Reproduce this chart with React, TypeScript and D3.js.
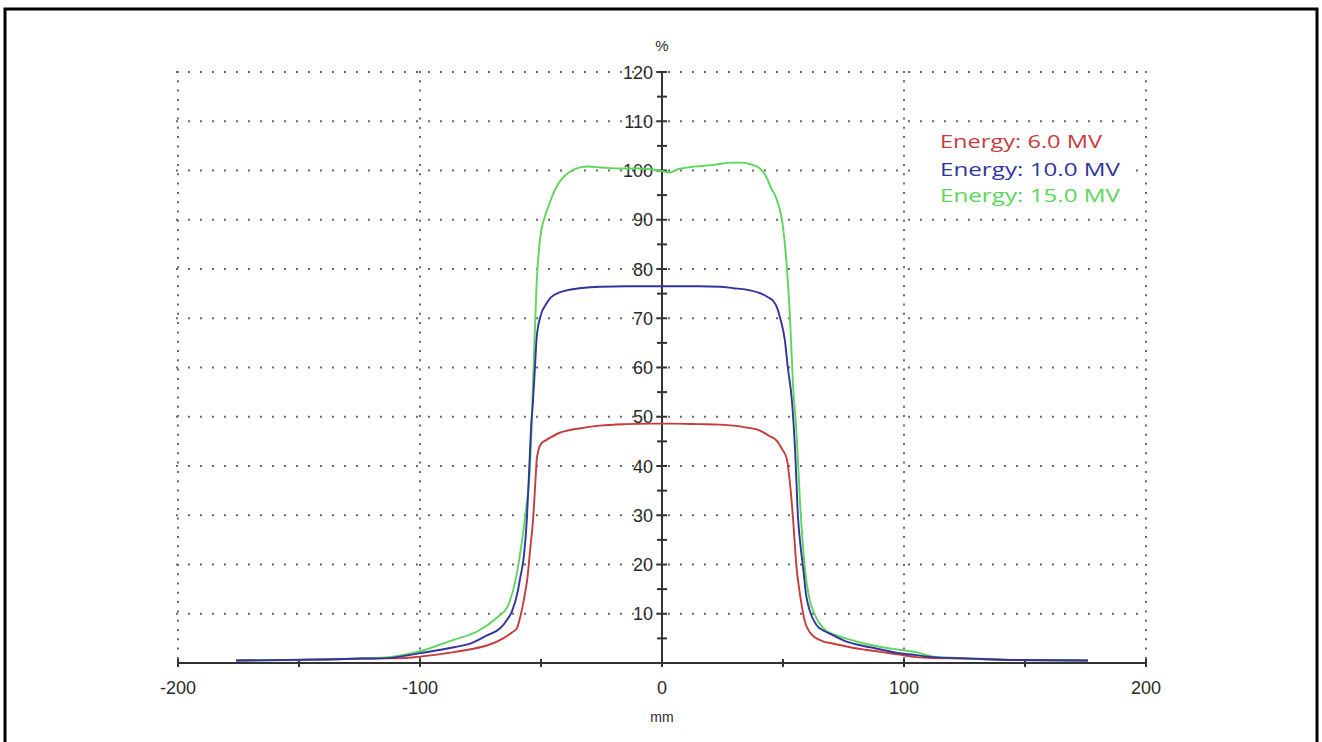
//beam profile chart: three energies, dose (%) against off-axis distance (mm)
import * as d3 from 'd3';
import React, { useEffect, useRef } from 'react';

// 6 MV profile
const x6MV = [-176, -140, -123, -107, -100, -93, -86, -79, -72, -65.6, -62, -60, -58.5, -57.4, -56.5, -55.8, -54.5, -53.2, -52.3, -51.8, -51, -50, -48, -46, -42, -39, -32, -25.6, -15, -5, 0, 5, 15, 24, 29.5, 35, 40.5, 44, 47.5, 49.5, 51.6, 52.9, 54.1, 55.6, 56.7, 57.8, 59, 61, 63, 66.5, 70, 77.7, 84, 91, 98, 105, 112, 123, 147, 176];
const y6MV = [0.5, 0.7, 0.9, 1.0, 1.3, 1.7, 2.2, 2.8, 3.6, 5.0, 6.2, 7.0, 9.5, 12, 14.5, 16.5, 22.9, 29.6, 37, 41.1, 43.3, 44.5, 45.2, 45.8, 46.8, 47.2, 47.8, 48.2, 48.5, 48.6, 48.6, 48.6, 48.5, 48.4, 48.2, 47.8, 47.2, 46.2, 45.1, 43.5, 41.4, 36.4, 29.6, 19.4, 15, 11.5, 8.5, 6.3, 5.3, 4.4, 4.0, 3.2, 2.7, 2.2, 1.7, 1.2, 1.0, 0.9, 0.6, 0.5];

// 10 MV profile
const x10MV = [-176, -140, -123, -113.6, -100, -86, -79, -72.3, -67, -64, -62, -59.5, -58.7, -57, -55.8, -55, -54, -53.3, -52.5, -51.8, -50.4, -48, -46, -42, -39, -32, -25, -15, 0, 15, 24, 29.5, 35, 40.5, 44, 46, 47.5, 48.8, 50.8, 52, 53.7, 55, 56.2, 57.2, 58.3, 59.5, 61, 64, 67, 70, 76, 82, 88, 98, 105, 112, 123, 147, 176];
const y10MV = [0.5, 0.7, 0.9, 1.0, 2.0, 3.2, 4.0, 5.6, 7.0, 8.8, 10.5, 14.8, 17, 22, 29.6, 38, 48.6, 53.2, 60, 66, 70.1, 72.8, 74.2, 75.3, 75.7, 76.2, 76.4, 76.5, 76.5, 76.5, 76.4, 76.1, 75.8, 75.1, 74.2, 73.5, 72.2, 70.1, 65.4, 60, 53.2, 43.1, 29.6, 24, 19.4, 14, 10.7, 7.6, 6.5, 5.8, 4.4, 3.6, 3.0, 2.0, 1.6, 1.2, 1.0, 0.6, 0.5];

// 15 MV profile
const x15MV = [-176, -140, -123, -113, -100, -93, -86, -76, -68, -64, -61.5, -59, -57.4, -56, -54.5, -53.3, -52.5, -51.8, -50.4, -48.5, -47, -45, -43, -40, -36, -31, -25, -18, -10, -4, 0, 3, 7, 12, 16, 22, 29, 33, 37, 40.5, 43, 45, 47.5, 50, 51.6, 52.9, 54.1, 55.6, 57, 59, 61, 63, 65, 68, 71, 74, 78, 84, 91, 98, 105, 112, 123, 147, 176];
const y15MV = [0.5, 0.7, 1.0, 1.2, 2.4, 3.5, 4.7, 6.5, 9.3, 11.3, 14.8, 21, 26.4, 32, 40, 56.8, 68, 77, 86, 90.5, 92.6, 95.2, 97.2, 99, 100.3, 100.8, 100.6, 100.4, 100.4, 100.2, 99.9, 99.6, 100.3, 100.7, 100.9, 101.2, 101.6, 101.6, 101.2, 100.4, 98.8, 96.5, 94, 88.5, 80.3, 70, 56.8, 46.6, 33, 19.4, 12.8, 10, 8.1, 6.5, 5.8, 5.3, 4.7, 3.9, 3.2, 2.7, 2.2, 1.3, 1.0, 0.6, 0.5];

const legendLabels = ['Energy: 6.0 MV', 'Energy: 10.0 MV', 'Energy: 15.0 MV'];
const seriesColors = ['#c63c3c', '#33339f', '#5cd65c'];

const xLabelTicks = [-200, -100, 0, 100, 200];
const xMarkTicks = [-200, -150, -100, -50, 0, 50, 100, 150, 200];
const xGridLines = [-200, -100, 100, 200];
const yLabelTicks = [10, 20, 30, 40, 50, 60, 70, 80, 90, 100, 110, 120];
const yMarkTicks = [5, 10, 15, 20, 25, 30, 35, 40, 45, 50, 55, 60, 65, 70, 75, 80, 85, 90, 95, 100, 105, 110, 115, 120];

const App = () => {
  const svgRef = useRef<SVGSVGElement>(null);

  useEffect(() => {
    const width = 1322;
    const height = 742;

    const svg = d3.select(svgRef.current).attr('width', width).attr('height', height);
    svg.selectAll('*').remove();

    svg
      .append('rect')
      .attr('width', width)
      .attr('height', height)
      .attr('fill', '#fff');

    //outer frame
    svg
      .append('rect')
      .attr('x', 5)
      .attr('y', 9)
      .attr('width', 1312)
      .attr('height', 760)
      .attr('fill', 'none')
      .attr('stroke', '#000')
      .attr('stroke-width', 3);

    const x = d3.scaleLinear().domain([-200, 200]).range([178, 1146]);
    const y = d3.scaleLinear().domain([0, 120]).range([663, 72]);

    //dotted grid
    const grid = svg.append('g').attr('stroke', '#6a6a6a').attr('stroke-width', 2);
    grid
      .selectAll('.hgrid')
      .data(yLabelTicks)
      .enter()
      .append('line')
      .attr('x1', x(-200) - 2)
      .attr('x2', x(200) + 2)
      .attr('y1', (d) => y(d))
      .attr('y2', (d) => y(d))
      .attr('stroke-dasharray', '2 10');
    grid
      .selectAll('.vgrid')
      .data(xGridLines)
      .enter()
      .append('line')
      .attr('x1', (d) => x(d))
      .attr('x2', (d) => x(d))
      .attr('y1', y(120) - 1)
      .attr('y2', y(0))
      .attr('stroke-dasharray', '2 7.3');

    //x axis line and ticks
    const axisColor = '#333';
    svg
      .append('line')
      .attr('x1', x(-200))
      .attr('x2', x(200))
      .attr('y1', y(0))
      .attr('y2', y(0))
      .attr('stroke', axisColor)
      .attr('stroke-width', 2);
    svg
      .selectAll('.xtick')
      .data(xMarkTicks)
      .enter()
      .append('line')
      .attr('x1', (d) => x(d))
      .attr('x2', (d) => x(d))
      .attr('y1', y(0) - 4)
      .attr('y2', y(0) + 4)
      .attr('stroke', axisColor)
      .attr('stroke-width', 2);

    //y axis line and ticks
    svg
      .append('line')
      .attr('x1', x(0))
      .attr('x2', x(0))
      .attr('y1', y(0))
      .attr('y2', y(120))
      .attr('stroke', axisColor)
      .attr('stroke-width', 2);
    svg
      .selectAll('.ytick')
      .data(yMarkTicks)
      .enter()
      .append('line')
      .attr('x1', x(0) - 5)
      .attr('x2', x(0) + 5)
      .attr('y1', (d) => y(d))
      .attr('y2', (d) => y(d))
      .attr('stroke', axisColor)
      .attr('stroke-width', 2);

    const labelFont = '"Liberation Sans", Arial, sans-serif';

    //tick labels
    svg
      .selectAll('.xlabel')
      .data(xLabelTicks)
      .enter()
      .append('text')
      .attr('x', (d) => x(d))
      .attr('y', 694)
      .attr('text-anchor', 'middle')
      .attr('font-family', labelFont)
      .attr('font-size', 18)
      .attr('fill', '#2a2a2a')
      .text((d) => d);

    svg
      .selectAll('.ylabel')
      .data(yLabelTicks)
      .enter()
      .append('text')
      .attr('x', x(0) - 9)
      .attr('y', (d) => y(d) + 6.5)
      .attr('text-anchor', 'end')
      .attr('font-family', labelFont)
      .attr('font-size', 18)
      .attr('fill', '#2a2a2a')
      .text((d) => d);

    //axis titles
    svg
      .append('text')
      .attr('x', x(0))
      .attr('y', 51)
      .attr('text-anchor', 'middle')
      .attr('font-family', labelFont)
      .attr('font-size', 15)
      .attr('fill', '#2a2a2a')
      .text('%');
    svg
      .append('text')
      .attr('x', x(0))
      .attr('y', 722)
      .attr('text-anchor', 'middle')
      .attr('font-family', labelFont)
      .attr('font-size', 14)
      .attr('fill', '#2a2a2a')
      .text('mm');

    //profile curves
    const series = [
      { xs: x6MV, ys: y6MV, color: seriesColors[0] },
      { xs: x15MV, ys: y15MV, color: seriesColors[2] },
      { xs: x10MV, ys: y10MV, color: seriesColors[1] }
    ];
    const profileLine = d3.line().curve(d3.curveMonotoneX);

    series.forEach((s) => {
      const pts: [number, number][] = s.xs.map((v, i) => [x(v), y(s.ys[i])]);
      svg
        .append('path')
        .attr('d', profileLine(pts))
        .attr('fill', 'none')
        .attr('stroke', s.color)
        .attr('stroke-width', 1.9);
    });

    //legend, with a white box hiding the grid behind it
    svg
      .append('rect')
      .attr('x', 920)
      .attr('y', 126)
      .attr('width', 212)
      .attr('height', 86)
      .attr('fill', '#fff');

    const legendWidths = [162, 180, 180];
    const legendBaselines = [148, 176, 202];
    svg
      .selectAll('.legend')
      .data(legendLabels)
      .enter()
      .append('text')
      .attr('x', 940)
      .attr('y', (d, i) => legendBaselines[i])
      .attr('font-family', '"Open Sans", "Noto Sans", sans-serif')
      .attr('font-size', 17.5)
      .attr('fill', (d, i) => seriesColors[i])
      .attr('textLength', (d, i) => legendWidths[i])
      .attr('lengthAdjust', 'spacingAndGlyphs')
      .text((d) => d);
  }, []);

  return (
    <div style={{ position: 'absolute', left: 0, top: 0 }}>
      <svg ref={svgRef} style={{ display: 'block' }}></svg>
    </div>
  );
};

export default App;
